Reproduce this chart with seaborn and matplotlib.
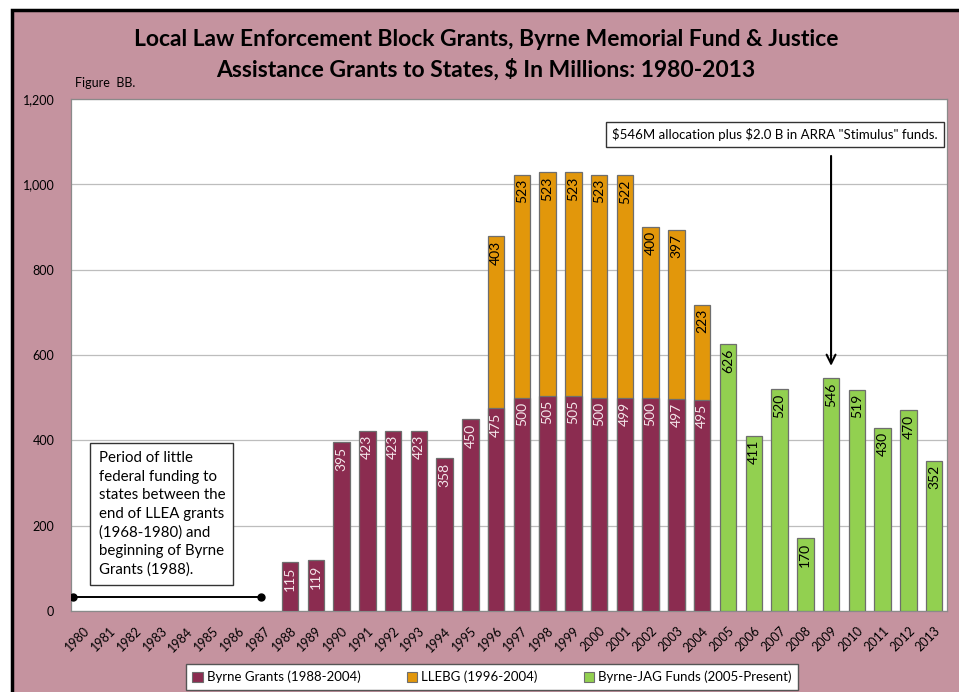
import matplotlib
matplotlib.use("Agg")
import matplotlib.pyplot as plt
import matplotlib.patches as mpatches
import matplotlib.transforms as mtransforms
import seaborn as sns
import pandas as pd

# ---- data ($ millions) ----
years = [str(y) for y in range(1980, 2014)]

byrne_years = [str(y) for y in range(1988, 2005)]
byrne_vals = [115, 119, 395, 423, 423, 423, 358, 450, 475, 500, 505, 505, 500, 499, 500, 497, 495]

llebg_years = [str(y) for y in range(1996, 2005)]
llebg_vals = [403, 523, 523, 523, 523, 522, 400, 397, 223]

jag_years = [str(y) for y in range(2005, 2014)]
jag_vals = [626, 411, 520, 170, 546, 519, 430, 470, 352]

y_ticks = [0, 200, 400, 600, 800, 1000, 1200]
legend_labels = ["Byrne Grants (1988-2004)", "LLEBG (1996-2004)", "Byrne-JAG Funds (2005-Present)"]

C_BYRNE = "#8B2C50"
C_LLEBG = "#E2970B"
C_JAG = "#92D050"
C_PANEL = "#C5939F"
EDGE = "#6E6E6E"

sns.set_theme(style="white")
plt.rcParams["font.family"] = ["Lato", "DejaVu Sans"]
plt.rcParams["text.color"] = "black"
plt.rcParams["xtick.color"] = "black"
plt.rcParams["ytick.color"] = "black"
plt.rcParams["text.parse_math"] = False

byrne = pd.DataFrame({"year": byrne_years, "value": byrne_vals})
jag = pd.DataFrame({"year": jag_years, "value": jag_vals})
byrne_map = dict(zip(byrne_years, byrne_vals))
stack_tot = pd.DataFrame({
    "year": llebg_years,
    "value": [byrne_map[y] + v for y, v in zip(llebg_years, llebg_vals)],
})

fig = plt.figure(figsize=(9.59, 6.92), dpi=100)
fig.patch.set_facecolor("white")

# pink chart panel with dark frame
W, H = 959, 692
panel = mpatches.Rectangle((12 / W, -0.05), 1.05, 1 - 10 / H + 0.05,
                           transform=fig.transFigure, facecolor=C_PANEL,
                           edgecolor="black", linewidth=2.5, zorder=-5)
fig.patches.append(panel)

ax = fig.add_axes([71 / W, 1 - 611 / H, (947 - 71) / W, (611 - 99) / H])
ax.set_facecolor("white")
ax.set_zorder(1)

bar_w = 0.64
kw = dict(x="year", y="value", order=years, width=bar_w, ax=ax,
          edgecolor=EDGE, linewidth=0.9, zorder=3, saturation=1)
sns.barplot(data=stack_tot, color=C_LLEBG, **kw)
sns.barplot(data=byrne, color=C_BYRNE, **kw)
sns.barplot(data=jag, color=C_JAG, **kw)

pos = {y: i for i, y in enumerate(years)}
lab_kw = dict(rotation=90, ha="center", va="top", fontsize=10, zorder=5)
for y, v in zip(byrne_years, byrne_vals):
    ax.text(pos[y], v - 10, f"{v}", color="#F4E6EA", **lab_kw)
for y, v in zip(llebg_years, llebg_vals):
    ax.text(pos[y], byrne_map[y] + v - 10, f"{v}", color="black", **lab_kw)
for y, v in zip(jag_years, jag_vals):
    ax.text(pos[y], v - 10, f"{v}", color="black", **lab_kw)

ax.set_ylim(0, 1200)
ax.set_xlim(-0.5, len(years) - 0.5)
ax.set_yticks(y_ticks)
ax.set_yticklabels([f"{t:,}" for t in y_ticks], fontsize=9)
ax.yaxis.grid(True, color="#BDBDBD", linewidth=0.9, zorder=0)
ax.set_axisbelow(True)
ax.set_xticks(range(len(years)))
ax.set_xticklabels(years, rotation=45, ha="right", rotation_mode="anchor", fontsize=9)
shift = mtransforms.ScaledTranslation(3 / 100, 0, fig.dpi_scale_trans)
for lbl in ax.get_xticklabels():
    lbl.set_transform(lbl.get_transform() + shift)
ax.tick_params(axis="y", length=0, pad=12)
ax.tick_params(axis="x", length=0, pad=10)
ax.set_xlabel("")
ax.set_ylabel("")
for s in ax.spines.values():
    s.set_color("#8A8A8A")
    s.set_linewidth(0.9)

# low-funding period marker and note
ax.plot([-0.42, 6.88], [33, 33], color="black", lw=1.4,
        marker="o", markersize=5, zorder=6)
ax.text(0.57, 374,
        "Period of little\nfederal funding to\nstates between the\nend of LLEA grants\n(1968-1980) and\nbeginning of Byrne\nGrants (1988).",
        fontsize=10.8, va="top", ha="left", linespacing=1.4, zorder=6,
        bbox=dict(boxstyle="square,pad=0.55", facecolor="white", edgecolor="#333333", lw=1))

# stimulus note
ax.annotate("", xy=(pos["2009"], 568), xytext=(pos["2009"], 1073),
            arrowprops=dict(arrowstyle="->", color="black", lw=1.5,
                            mutation_scale=16), zorder=6)
ax.text(20.5, 1116, '$546M allocation plus $2.0 B in ARRA "Stimulus" funds.',
        fontsize=9.5, va="center", ha="left", zorder=6,
        bbox=dict(boxstyle="square,pad=0.45", facecolor="white", edgecolor="#333333", lw=1))

fig.text(486 / W, 1 - 40 / H, "Local Law Enforcement Block Grants, Byrne Memorial Fund & Justice",
         ha="center", va="center", fontsize=16.5, fontweight="bold", color="black")
fig.text(486 / W, 1 - 70 / H, "Assistance Grants to States, $ In Millions: 1980-2013",
         ha="center", va="center", fontsize=16.5, fontweight="bold", color="black")
fig.text(75 / W, 1 - 83 / H, "Figure  BB.", ha="left", va="center", fontsize=9)

handles = [mpatches.Patch(facecolor=c, edgecolor=EDGE, lw=0.8) for c in (C_BYRNE, C_LLEBG, C_JAG)]
leg = fig.legend(handles, legend_labels, loc="center", ncol=3,
                 bbox_to_anchor=(492 / W, 1 - 677 / H), fontsize=9.5,
                 frameon=True, fancybox=False, framealpha=1,
                 handlelength=0.8, handleheight=0.8,
                 handletextpad=0.3, columnspacing=3.5, borderpad=0.5)
leg.get_frame().set_facecolor("white")
leg.get_frame().set_edgecolor("#555555")
leg.get_frame().set_linewidth(1)

fig.savefig("out.png", dpi=100)
